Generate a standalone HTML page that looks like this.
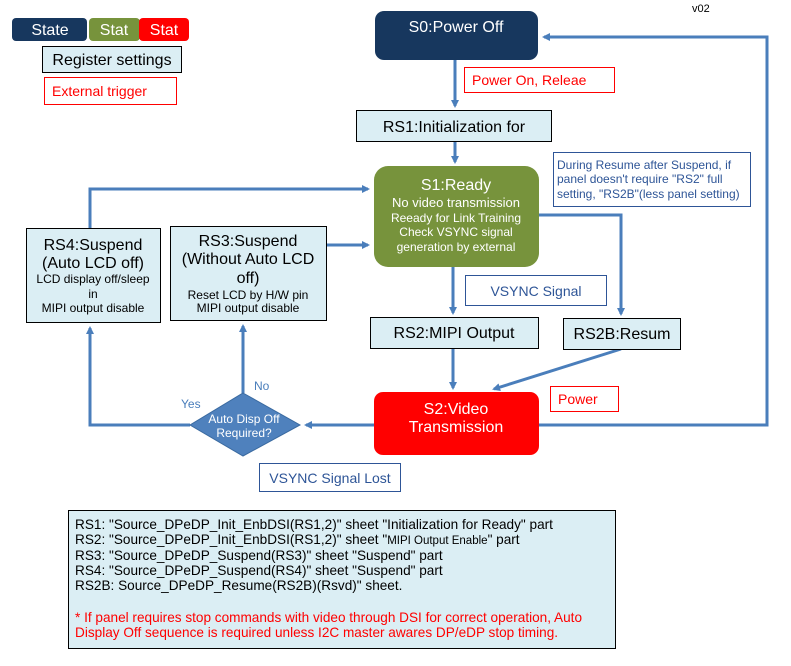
<!DOCTYPE html>
<html><head><meta charset="utf-8"><style>
body{margin:0;background:#fff}
svg{display:block;font-family:"Liberation Sans",Arial,sans-serif}
</style></head><body>
<svg width="791" height="666" viewBox="0 0 791 666" xmlns="http://www.w3.org/2000/svg">
<defs><marker id="a" markerWidth="8" markerHeight="8" refX="6" refY="4" orient="auto" markerUnits="userSpaceOnUse"><path d="M0,0 L8,4 L0,8 z" fill="#4a7ebb"/></marker></defs>
<rect x="12" y="18" width="75" height="23" rx="4" fill="#17375e"/>
<text x="50" y="35" fill="#fff" font-size="16" text-anchor="middle">State</text>
<rect x="89" y="18" width="51" height="23" rx="4" fill="#77933c"/>
<text x="114" y="35" fill="#fff" font-size="16" text-anchor="middle">Stat</text>
<rect x="139" y="18" width="50" height="23" rx="4" fill="#ff0000"/>
<text x="164" y="35" fill="#fff" font-size="16" text-anchor="middle">Stat</text>
<rect x="42.5" y="46.5" width="139" height="26" fill="#dbeef4" stroke="#000"/>
<text x="112" y="65" font-size="16" text-anchor="middle">Register settings</text>
<rect x="44.5" y="77.5" width="132" height="27" fill="#fff" stroke="#f00"/>
<text x="52" y="96" font-size="14" fill="#f00">External trigger</text>
<text x="692" y="12" font-size="11">v02</text>
<g stroke="#4a7ebb" stroke-width="3" fill="none">
<path d="M455,60 V106" marker-end="url(#a)"/>
<path d="M455,141 V162" marker-end="url(#a)"/>
<path d="M453,267 V313" marker-end="url(#a)"/>
<path d="M453,348 V388" marker-end="url(#a)"/>
<path d="M539,215 H621 V314" marker-end="url(#a)"/>
<path d="M621,349 L494,389" marker-end="url(#a)"/>
<path d="M539,425 H767 V37 H544" marker-end="url(#a)"/>
<path d="M374,425 H306" marker-end="url(#a)"/>
<path d="M190,425 H90 V328" marker-end="url(#a)"/>
<path d="M243,393 V326" marker-end="url(#a)"/>
<path d="M90,228 V189 H368" marker-end="url(#a)"/>
<path d="M326,245 H368" marker-end="url(#a)"/>
</g>
<rect x="375" y="11" width="163" height="49" rx="9" fill="#17375e"/>
<text x="456" y="32" fill="#fff" font-size="16" text-anchor="middle">S0:Power Off</text>
<rect x="464.5" y="67.5" width="150" height="25" fill="#fff" stroke="#f00"/>
<text x="472" y="85" font-size="14" fill="#f00">Power On, Releae</text>
<rect x="356.5" y="110.5" width="195" height="31" fill="#dbeef4" stroke="#000"/>
<text x="454" y="132" font-size="16" text-anchor="middle">RS1:Initialization for</text>
<rect x="374" y="166" width="165" height="101" rx="14" fill="#77933c"/>
<g fill="#fff" text-anchor="middle">
<text x="456" y="190" font-size="16">S1:Ready</text>
<text x="456" y="207" font-size="13">No video transmission</text>
<text x="456" y="222" font-size="12">Reeady for Link Training</text>
<text x="456" y="236" font-size="12">Check VSYNC  signal</text>
<text x="456" y="251" font-size="12">generation by external</text>
</g>
<rect x="553.5" y="152.5" width="197" height="54" fill="#fff" stroke="#2e5597"/>
<g fill="#2e5597" font-size="12" font-weight="500"><text x="557" y="169">During Resume after Suspend, if</text><text x="557" y="183">panel doesn't require "RS2" full</text><text x="557" y="198">setting, "RS2B"(less panel setting)</text></g>
<rect x="465.5" y="275.5" width="141" height="30" fill="#fff" stroke="#2e5597"/>
<text x="536" y="296" font-size="14" fill="#2e5597" text-anchor="middle">VSYNC Signal</text>
<rect x="370.5" y="317.5" width="168" height="31" fill="#dbeef4" stroke="#000"/>
<text x="454" y="338" font-size="16" text-anchor="middle">RS2:MIPI Output</text>
<rect x="563.5" y="318.5" width="117" height="31" fill="#dbeef4" stroke="#000"/>
<text x="622" y="339" font-size="16" text-anchor="middle">RS2B:Resum</text>
<rect x="374" y="392" width="165" height="63" rx="9" fill="#ff0000"/>
<text x="456" y="414" fill="#fff" font-size="16" text-anchor="middle">S2:Video</text>
<text x="456" y="432" fill="#fff" font-size="16" text-anchor="middle">Transmission</text>
<rect x="550.5" y="386.5" width="68" height="25" fill="#fff" stroke="#f00"/>
<text x="558" y="404" font-size="14" fill="#f00">Power</text>
<path d="M243,393 L300,425 L243,456 L190,425 z" fill="#4f81bd" stroke="#3a6aa0"/>
<text x="244" y="423" fill="#fff" font-size="12" text-anchor="middle">Auto Disp Off</text>
<text x="244" y="437" fill="#fff" font-size="12" text-anchor="middle">Required?</text>
<text x="181" y="408" fill="#4a7ebb" font-size="12">Yes</text>
<text x="254" y="390" fill="#4a7ebb" font-size="12">No</text>
<rect x="259.5" y="463.5" width="141" height="28" fill="#fff" stroke="#2e5597"/>
<text x="330" y="483" font-size="14" fill="#2e5597" text-anchor="middle">VSYNC Signal Lost</text>
<rect x="26.5" y="228.5" width="134" height="94" fill="#dbeef4" stroke="#000"/>
<g text-anchor="middle"><text x="93" y="250" font-size="16">RS4:Suspend</text><text x="93" y="268" font-size="16">(Auto LCD off)</text>
<text x="93" y="283" font-size="12">LCD display off/sleep</text><text x="93" y="298" font-size="12">in</text><text x="93" y="312" font-size="12">MIPI output disable</text></g>
<rect x="170.5" y="226.5" width="156" height="94" fill="#dbeef4" stroke="#000"/>
<g text-anchor="middle"><text x="248" y="246" font-size="16">RS3:Suspend</text><text x="248" y="264" font-size="16">(Without Auto LCD</text><text x="248" y="283" font-size="16">off)</text>
<text x="248" y="299" font-size="12">Reset LCD by H/W pin</text><text x="248" y="312" font-size="12">MIPI output disable</text></g>
<rect x="68.5" y="510.5" width="547" height="138" fill="#dbeef4" stroke="#000"/>
<g font-size="13.6"><text x="75" y="529">RS1: "Source_DPeDP_Init_EnbDSI(RS1,2)" sheet "Initialization for Ready" part</text>
<text x="75" y="544">RS2: "Source_DPeDP_Init_EnbDSI(RS1,2)" sheet "<tspan font-size="11.5">MIPI Output Enable</tspan>" part</text>
<text x="75" y="560">RS3: "Source_DPeDP_Suspend(RS3)" sheet "Suspend" part</text>
<text x="75" y="575">RS4: "Source_DPeDP_Suspend(RS4)" sheet "Suspend" part</text>
<text x="75" y="590">RS2B: Source_DPeDP_Resume(RS2B)(Rsvd)" sheet.</text>
<text x="75" y="622" fill="#f00">* If panel requires stop commands with video through DSI for correct operation, Auto</text>
<text x="75" y="637" fill="#f00">Display Off sequence is required unless I2C master awares DP/eDP stop timing.</text></g>
</svg>
</body></html>
